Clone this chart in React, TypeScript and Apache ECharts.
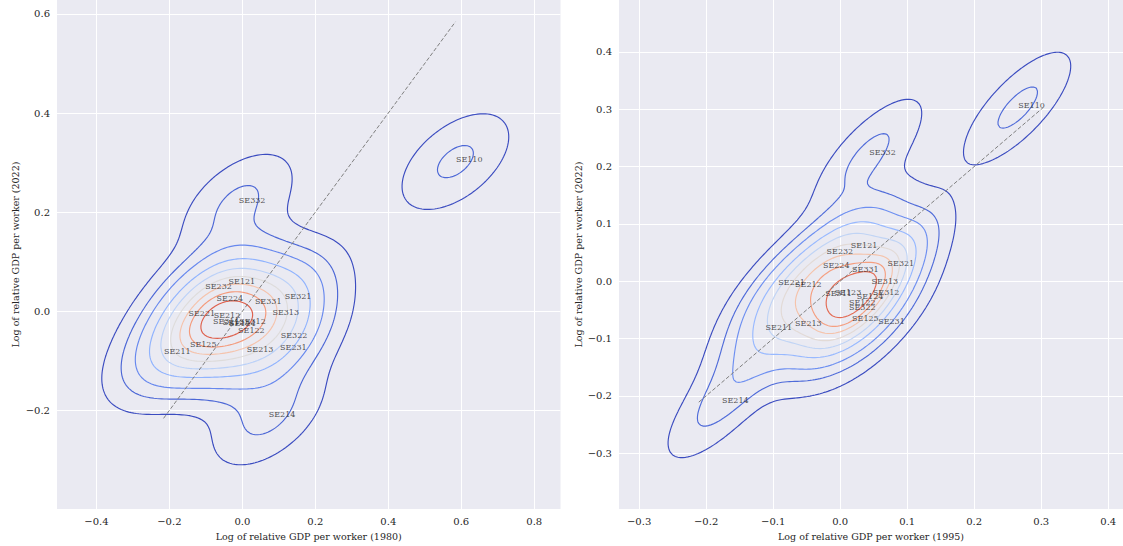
import React, { useEffect, useRef } from "react";
import * as echarts from "echarts";

// ---- Data (label positions = region points) ----
const regions = [
  "SE110", "SE121", "SE122", "SE123", "SE124", "SE125", "SE211", "SE212", "SE213", "SE214", "SE221",
  "SE224", "SE231", "SE232", "SE311", "SE312", "SE313", "SE321", "SE322", "SE331", "SE332",
];
// Panel 1: 1980 (x) vs 2022 (y)
const x1980 = [
  0.584, -0.039, -0.013, -0.055, -0.038, -0.145, -0.216, -0.080, 0.011, 0.071, -0.149,
  -0.072, 0.102, -0.103, -0.082, -0.010, 0.081, 0.115, 0.104, 0.033, -0.011,
];
const y2022a = [
  0.302, 0.056, -0.042, -0.027, -0.029, -0.070, -0.085, -0.012, -0.081, -0.213, -0.008,
  0.022, -0.077, 0.046, -0.025, -0.024, -0.006, 0.026, -0.052, 0.016, 0.220,
];
// Panel 2: 1995 (x) vs 2022 (y)
const x1995 = [
  0.265, 0.015, 0.0125, -0.009, 0.024, 0.017, -0.112, -0.068, -0.068, -0.177, -0.093,
  -0.0265, 0.056, -0.021, -0.023, 0.048, 0.046, 0.070, 0.0125, 0.017, 0.0425,
];
const y2022b = [
  0.303, 0.058, -0.040, -0.024, -0.030, -0.069, -0.084, -0.010, -0.078, -0.211, -0.006,
  0.0235, -0.073, 0.049, -0.025, -0.023, -0.004, 0.028, -0.050, 0.017, 0.221,
];

const leftXTicks = [-0.4, -0.2, 0.0, 0.2, 0.4, 0.6, 0.8];
const leftYTicks = [-0.2, 0.0, 0.2, 0.4, 0.6];
const rightXTicks = [-0.3, -0.2, -0.1, 0.0, 0.1, 0.2, 0.3, 0.4];
const rightYTicks = [-0.3, -0.2, -0.1, 0.0, 0.1, 0.2, 0.3, 0.4];

const xName1 = "Log of relative GDP per worker (1980)";
const xName2 = "Log of relative GDP per worker (1995)";
const yName = "Log of relative GDP per worker (2022)";

// coolwarm colormap table
const COOLWARM: number[][] = [
  [59, 76, 192], [68, 90, 204], [77, 104, 215], [87, 117, 225], [98, 130, 234], [108, 142, 241],
  [119, 154, 247], [130, 165, 251], [141, 176, 254], [152, 185, 255], [163, 194, 255], [174, 201, 253],
  [184, 208, 249], [194, 213, 244], [204, 217, 238], [213, 219, 230], [221, 221, 221], [229, 216, 209],
  [236, 211, 197], [241, 204, 184], [245, 196, 173], [247, 187, 160], [247, 177, 148], [247, 166, 135],
  [244, 154, 123], [241, 141, 111], [236, 127, 99], [229, 112, 88], [222, 96, 77], [213, 80, 66],
  [203, 62, 56], [192, 40, 47], [180, 4, 38],
];
function coolwarm(t: number) {
  t = Math.max(0, Math.min(1, t));
  const p = t * (COOLWARM.length - 1);
  const i = Math.min(Math.floor(p), COOLWARM.length - 2);
  const f = p - i;
  const c = COOLWARM[i].map((v, k) => Math.round(v + f * (COOLWARM[i + 1][k] - v)));
  return `rgb(${c[0]},${c[1]},${c[2]})`;
}

// Gaussian KDE (Scott bandwidth, full covariance) + iso-proportion contours
function kdeContours(xs: number[], ys: number[], nLevels = 10, thresh = 0.05, G = 200, cut = 3) {
  const n = xs.length;
  const mx = xs.reduce((a, b) => a + b, 0) / n;
  const my = ys.reduce((a, b) => a + b, 0) / n;
  let sxx = 0, syy = 0, sxy = 0;
  for (let k = 0; k < n; k++) {
    sxx += (xs[k] - mx) ** 2;
    syy += (ys[k] - my) ** 2;
    sxy += (xs[k] - mx) * (ys[k] - my);
  }
  sxx /= n - 1; syy /= n - 1; sxy /= n - 1;
  const f = Math.pow(n, -1 / 6);
  const kxx = sxx * f * f, kyy = syy * f * f, kxy = sxy * f * f;
  const det = kxx * kyy - kxy * kxy;
  const ixx = kyy / det, iyy = kxx / det, ixy = -kxy / det;
  const bwx = Math.sqrt(kxx), bwy = Math.sqrt(kyy);
  const x0 = Math.min(...xs) - cut * bwx, x1 = Math.max(...xs) + cut * bwx;
  const y0 = Math.min(...ys) - cut * bwy, y1 = Math.max(...ys) + cut * bwy;
  const gx: number[] = [], gy: number[] = [];
  for (let i = 0; i < G; i++) {
    gx.push(x0 + ((x1 - x0) * i) / (G - 1));
    gy.push(y0 + ((y1 - y0) * i) / (G - 1));
  }
  const d = new Float64Array(G * G);
  for (let j = 0; j < G; j++) {
    for (let i = 0; i < G; i++) {
      let s = 0;
      for (let k = 0; k < n; k++) {
        const dx = gx[i] - xs[k], dy = gy[j] - ys[k];
        s += Math.exp(-0.5 * (dx * dx * ixx + 2 * dx * dy * ixy + dy * dy * iyy));
      }
      d[j * G + i] = s;
    }
  }
  // iso-proportion levels
  const sorted = Array.from(d).sort((a, b) => b - a);
  const total = sorted.reduce((a, b) => a + b, 0);
  const cum: number[] = [];
  let acc = 0;
  for (const v of sorted) { acc += v; cum.push(acc / total); }
  const levels: number[] = [];
  for (let l = 0; l < nLevels; l++) {
    const p = thresh + ((1 - thresh) * l) / (nLevels - 1);
    const target = 1 - p;
    let lo = 0, hi = cum.length;
    while (lo < hi) { const mid = (lo + hi) >> 1; if (cum[mid] < target) lo = mid + 1; else hi = mid; }
    levels.push(sorted[Math.min(lo, sorted.length - 1)]);
  }
  const lmin = levels[0], lmax = levels[levels.length - 1];
  const out: { coords: number[][]; color: string }[] = [];
  levels.forEach((level) => {
    const color = coolwarm((level - lmin) / (lmax - lmin));
    for (const line of marching(gx, gy, d, G, level)) out.push({ coords: line, color });
  });
  return out;
}

function marching(gx: number[], gy: number[], d: Float64Array, G: number, level: number) {
  const pts = new Map<number, number[]>();
  const segs: number[][] = [];
  const hKey = (i: number, j: number) => {
    const key = (j * G + i) * 2;
    if (!pts.has(key)) {
      const v0 = d[j * G + i], v1 = d[j * G + i + 1];
      const t = (level - v0) / (v1 - v0);
      pts.set(key, [gx[i] + t * (gx[i + 1] - gx[i]), gy[j]]);
    }
    return key;
  };
  const vKey = (i: number, j: number) => {
    const key = (j * G + i) * 2 + 1;
    if (!pts.has(key)) {
      const v0 = d[j * G + i], v1 = d[(j + 1) * G + i];
      const t = (level - v0) / (v1 - v0);
      pts.set(key, [gx[i], gy[j] + t * (gy[j + 1] - gy[j])]);
    }
    return key;
  };
  for (let j = 0; j < G - 1; j++) {
    for (let i = 0; i < G - 1; i++) {
      const v0 = d[j * G + i], v1 = d[j * G + i + 1], v2 = d[(j + 1) * G + i + 1], v3 = d[(j + 1) * G + i];
      const c = (v0 > level ? 1 : 0) | (v1 > level ? 2 : 0) | (v2 > level ? 4 : 0) | (v3 > level ? 8 : 0);
      if (c === 0 || c === 15) continue;
      const B = () => hKey(i, j), T = () => hKey(i, j + 1), L = () => vKey(i, j), R = () => vKey(i + 1, j);
      const center = (v0 + v1 + v2 + v3) / 4 > level;
      switch (c) {
        case 1: case 14: segs.push([L(), B()]); break;
        case 2: case 13: segs.push([B(), R()]); break;
        case 3: case 12: segs.push([L(), R()]); break;
        case 4: case 11: segs.push([R(), T()]); break;
        case 6: case 9: segs.push([B(), T()]); break;
        case 7: case 8: segs.push([L(), T()]); break;
        case 5:
          if (center) { segs.push([B(), R()]); segs.push([T(), L()]); }
          else { segs.push([L(), B()]); segs.push([R(), T()]); }
          break;
        case 10:
          if (center) { segs.push([L(), B()]); segs.push([R(), T()]); }
          else { segs.push([B(), R()]); segs.push([T(), L()]); }
          break;
      }
    }
  }
  const adj = new Map<number, number[]>();
  segs.forEach(([a, b], k) => {
    if (!adj.has(a)) adj.set(a, []);
    if (!adj.has(b)) adj.set(b, []);
    adj.get(a)!.push(k);
    adj.get(b)!.push(k);
  });
  const used = new Array(segs.length).fill(false);
  const lines: number[][][] = [];
  const walk = (start: number) => {
    const res: number[] = [];
    let cur = start;
    for (;;) {
      const next = (adj.get(cur) || []).find((s) => !used[s]);
      if (next === undefined) break;
      used[next] = true;
      const [p, q] = segs[next];
      cur = p === cur ? q : p;
      res.push(cur);
    }
    return res;
  };
  for (let k = 0; k < segs.length; k++) {
    if (used[k]) continue;
    used[k] = true;
    const [a, b] = segs[k];
    const fwd = walk(b);
    const back = walk(a);
    const keys = [...back.reverse(), a, b, ...fwd];
    lines.push(keys.map((key) => pts.get(key)!));
  }
  return lines;
}

const FONT = "DejaVu Serif";
const TXT = "#262626";
const fmt = (v: number) => (v < -1e-9 ? "\u2212" : "") + Math.abs(v).toFixed(1);

function axis(gridIndex: number, min: number, max: number, ticks: number[], name: string, nameGap: number) {
  return {
    type: "value",
    gridIndex,
    min,
    max,
    name,
    nameLocation: "middle",
    nameGap,
    nameTextStyle: { fontFamily: FONT, fontSize: 9.5, color: TXT },
    axisLine: { show: false },
    axisTick: { show: false, customValues: ticks },
    axisLabel: { customValues: ticks, formatter: fmt, fontFamily: FONT, fontSize: 10, color: TXT, margin: 7 },
    splitLine: { show: true, lineStyle: { color: "#ffffff", width: 1 } },
  };
}

function panelSeries(xs: number[], ys: number[], idx: number) {
  const contours = kdeContours(xs, ys);
  const all = xs.concat(ys);
  const lo = Math.min(...all), hi = Math.max(...all);
  return [
    {
      type: "lines",
      coordinateSystem: "cartesian2d",
      xAxisIndex: idx,
      yAxisIndex: idx,
      polyline: true,
      silent: true,
      z: 2,
      lineStyle: { width: 1.15, opacity: 1 },
      data: contours.map((c) => ({ coords: c.coords, lineStyle: { color: c.color, width: 1.15, opacity: 1 } })),
    },
    {
      type: "line",
      xAxisIndex: idx,
      yAxisIndex: idx,
      symbol: "none",
      silent: true,
      z: 3,
      lineStyle: { color: "#7f7f7f", width: 1, type: [4, 2] },
      data: [[lo, lo], [hi, hi]],
    },
    {
      type: "scatter",
      xAxisIndex: idx,
      yAxisIndex: idx,
      symbolSize: 1,
      silent: true,
      z: 4,
      itemStyle: { color: "rgba(0,0,0,0)" },
      label: {
        show: true,
        formatter: "{b}",
        position: "right",
        distance: 0,
        align: "left",
        verticalAlign: "bottom",
        offset: [0, 2],
        fontFamily: FONT,
        fontSize: 8,
        color: TXT,
      },
      data: regions.map((r, i) => ({ name: r, value: [xs[i], ys[i]] })),
    },
  ];
}

export default function App() {
  const ref = useRef<HTMLDivElement>(null);
  useEffect(() => {
    if (!ref.current) return;
    const chart = echarts.init(ref.current, undefined, { renderer: "svg" });
    chart.setOption({
      animation: false,
      backgroundColor: "#ffffff",
      grid: [
        { left: 57, top: 0, width: 503.5, height: 510, show: true, backgroundColor: "#eaeaf2", borderWidth: 0 },
        { left: 619, top: 0, width: 504, height: 510, show: true, backgroundColor: "#eaeaf2", borderWidth: 0 },
      ],
      xAxis: [
        axis(0, -0.508, 0.872, leftXTicks, xName1, 18),
        axis(1, -0.33, 0.422, rightXTicks, xName2, 18),
      ],
      yAxis: [
        axis(0, -0.399, 0.628, leftYTicks, yName, 37),
        axis(1, -0.3975, 0.4905, rightYTicks, yName, 36),
      ],
      series: [...panelSeries(x1980, y2022a, 0), ...panelSeries(x1995, y2022b, 1)],
    });
    return () => chart.dispose();
  }, []);
  return <div ref={ref} style={{ position: "absolute", left: 0, top: 0, width: 1123, height: 546 }} />;
}
